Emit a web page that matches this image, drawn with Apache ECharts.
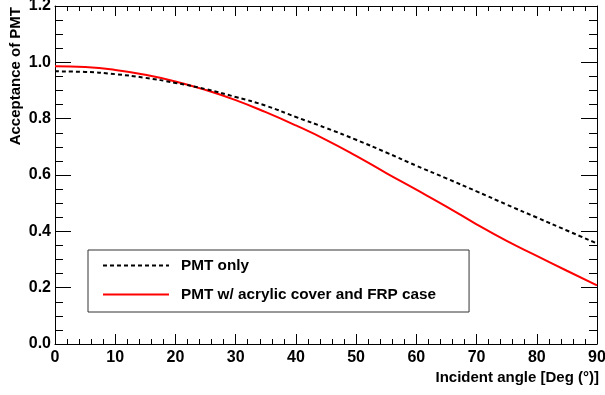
<!DOCTYPE html>
<html>
<head>
<meta charset="utf-8">
<script src="https://cdn.jsdelivr.net/npm/echarts@6/dist/echarts.min.js"></script>
<style>
  html, body { margin: 0; padding: 0; background: #fff; }
  #chart { width: 605px; height: 395px; }
</style>
</head>
<body>
<div id="chart"></div>
<script>
// incident angle in degrees
const angles = [0, 5, 10, 15, 20, 25, 30, 35, 40, 45, 50, 55, 60, 65, 70, 75, 80, 85, 90];
// acceptance, bare PMT
const pmtOnly = [0.968, 0.966, 0.958, 0.945, 0.927, 0.905, 0.877, 0.846, 0.806, 0.767, 0.725, 0.680, 0.633, 0.588, 0.542, 0.495, 0.449, 0.403, 0.357];
// acceptance, PMT with acrylic cover + FRP case
const pmtCover = [0.986, 0.983, 0.973, 0.956, 0.932, 0.902, 0.866, 0.823, 0.776, 0.725, 0.668, 0.607, 0.548, 0.488, 0.425, 0.366, 0.313, 0.260, 0.208];

const seriesNames = ['PMT only', 'PMT w/ acrylic cover and FRP case'];
const FONT = 'Liberation Sans, Arial, Helvetica, sans-serif';

const chart = echarts.init(document.getElementById('chart'));

const pairs = (ys) => angles.map((a, i) => [a, ys[i]]);

// frame lines, never moved onto the zero of the other axis
const frameLine = { show: true, onZero: false, lineStyle: { color: '#000', width: 1 } };

const xBase = {
  type: 'value',
  min: 0,
  max: 90,
  interval: 10,
  axisLine: frameLine,
  splitLine: { show: false },
  axisTick: { show: true, inside: true, length: 10, lineStyle: { color: '#000' } },
  minorTick: { show: true, splitNumber: 5, length: 5, lineStyle: { color: '#000' } },
};
const yBase = {
  type: 'value',
  min: 0,
  max: 1.2,
  interval: 0.2,
  axisLine: frameLine,
  splitLine: { show: false },
  axisTick: { show: true, inside: true, length: 16, lineStyle: { color: '#000' } },
  minorTick: { show: true, splitNumber: 4, length: 8, lineStyle: { color: '#000' } },
};

const option = {
  animation: false,
  backgroundColor: '#fff',
  grid: { left: 55, right: 8, top: 6, bottom: 51, outerBoundsMode: 'none' },
  xAxis: [
    Object.assign({}, xBase, {
      position: 'bottom',
      axisLabel: { color: '#000', fontFamily: FONT, fontWeight: 'bold', fontSize: 16, margin: 6 },
    }),
    Object.assign({}, xBase, { position: 'top', axisLabel: { show: false } }),
  ],
  yAxis: [
    Object.assign({}, yBase, {
      position: 'left',
      axisLabel: {
        color: '#000', fontFamily: FONT, fontWeight: 'bold', fontSize: 16, margin: 4,
        formatter: (v) => v.toFixed(1),
      },
    }),
    Object.assign({}, yBase, { position: 'right', axisLabel: { show: false } }),
  ],
  legend: {
    orient: 'vertical',
    left: 88,
    top: 250,
    padding: [8, 33, 10, 14],
    itemWidth: 66,
    itemHeight: 14,
    itemGap: 14,
    backgroundColor: '#fff',
    borderColor: '#333',
    borderWidth: 1,
    borderRadius: 0,
    data: seriesNames,
    itemStyle: { opacity: 0 },
    textStyle: { color: '#000', fontFamily: FONT, fontWeight: 'bold', fontSize: 15.3, padding: [0, 0, 0, 7] },
  },
  graphic: [
    {
      type: 'text',
      x: 599,
      y: 378,
      style: {
        text: 'Incident angle [Deg (°)]',
        fill: '#000',
        font: 'bold 15px ' + FONT,
        textAlign: 'right',
        textVerticalAlign: 'middle',
      },
    },
    {
      type: 'text',
      x: 16,
      y: 7,
      rotation: Math.PI / 2,
      style: {
        text: 'Acceptance of PMT',
        fill: '#000',
        font: 'bold 15px ' + FONT,
        textAlign: 'right',
        textVerticalAlign: 'middle',
      },
    },
  ],
  series: [
    {
      name: seriesNames[0],
      type: 'line',
      smooth: true,
      showSymbol: false,
      symbol: 'none',
      data: pairs(pmtOnly),
      itemStyle: { color: '#000' },
      lineStyle: { color: '#000', width: 2, type: [4, 3] },
      z: 3,
    },
    {
      name: seriesNames[1],
      type: 'line',
      smooth: true,
      showSymbol: false,
      symbol: 'none',
      data: pairs(pmtCover),
      itemStyle: { color: '#ff0000' },
      lineStyle: { color: '#ff0000', width: 2 },
      z: 2,
    },
  ],
};

chart.setOption(option);
</script>
</body>
</html>
